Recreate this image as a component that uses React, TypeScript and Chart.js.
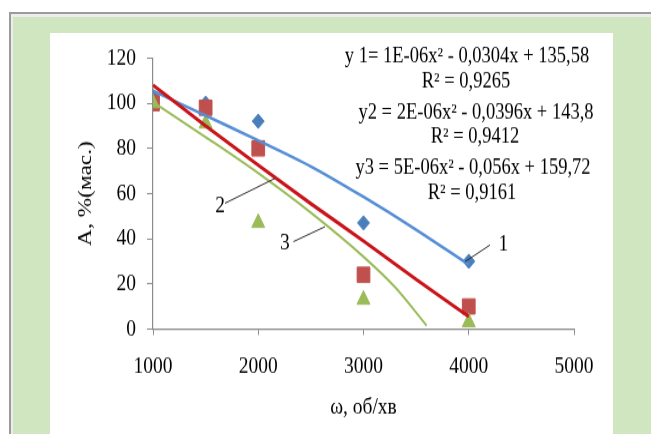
import React, { useEffect, useRef } from 'react';
import { Chart, registerables } from 'chart.js';

Chart.register(...registerables);

// ---- data ----
const categories = [1000, 1500, 2000, 3000, 4000];
const series1 = [103, 100, 92, 47, 30];
const series2 = [100, 98, 80, 24, 10];
const series3 = [100, 91, 47, 13, 3];

const trendX = [1000, 1500, 2000, 2500, 3000, 3500, 4000];
const trend1 = [105.5, 94.5, 83.5, 72, 58.5, 44, 28.5];
const trend2 = [108, 90, 72.5, 55.5, 39, 22, 5.5];
const trend3X = [1000, 1500, 2000, 2500, 3000, 3300, 3600];
const trend3 = [100.5, 85, 69, 51.5, 32, 18.5, 1.5];

const xTickLabels = ['1000', '2000', '3000', '4000', '5000'];
const yTickLabels = ['0', '20', '40', '60', '80', '100', '120'];

const equationLines = [
  'y 1= 1E-06x² - 0,0304x + 135,58',
  'R² = 0,9265',
  'y2 = 2E-06x² - 0,0396x + 143,8',
  'R² = 0,9412',
  'y3 = 5E-06x² - 0,056x + 159,72',
  'R² = 0,9161',
];
const curveNames = ['1', '2', '3'];

const xTitle = 'ω, об/хв';
const yTitle = 'А, %(мас.)';

// ---- layout (not data) ----
const W = 651;
const H = 434;
const CH = 362; // canvas height, stretched vertically to H
const SY = H / CH;
const FONT = "'Liberation Serif', 'Times New Roman', serif";

// equation text centres in page pixels
const eqPos = [
  [467, 57], [466, 82], [476, 113], [475, 137], [473, 168], [472, 193],
];
// curve label anchors in data units: label, leader start (label side), leader end (curve side)
const labelAnchors = [
  { text: [4329, 37.2], from: [4202, 37.2], to: [3964, 29.8] },
  { text: [1637, 54.2], from: [1684, 55.7], to: [2159, 66.7] },
  { text: [2254, 38.0], from: [2334, 38.7], to: [2634, 45.3] },
];

const toPts = (xs: number[], ys: number[]) => xs.map((x, i) => ({ x, y: ys[i] }));

const overlayPlugin = {
  id: 'overlay',
  afterDatasetsDraw(chart: any) {
    const { ctx, scales } = chart;
    const xs = scales.x;
    const ys = scales.y;
    ctx.save();
    // leader lines
    ctx.strokeStyle = '#303030';
    ctx.lineWidth = 1;
    labelAnchors.forEach((a) => {
      ctx.beginPath();
      ctx.moveTo(xs.getPixelForValue(a.from[0]), ys.getPixelForValue(a.from[1]));
      ctx.lineTo(xs.getPixelForValue(a.to[0]), ys.getPixelForValue(a.to[1]));
      ctx.stroke();
    });
    ctx.fillStyle = '#000';
    ctx.textAlign = 'center';
    ctx.textBaseline = 'middle';
    ctx.font = `normal 19.5px ${FONT}`;
    labelAnchors.forEach((a, i) => {
      ctx.fillText(curveNames[i], xs.getPixelForValue(a.text[0]), ys.getPixelForValue(a.text[1]));
    });
    ctx.font = `normal 18.5px ${FONT}`;
    equationLines.forEach((t, i) => {
      ctx.fillText(t, eqPos[i][0], eqPos[i][1] / SY);
    });
    ctx.restore();
  },
};

export default function App() {
  const ref = useRef<HTMLCanvasElement>(null);

  useEffect(() => {
    if (!ref.current) return;
    const chart = new Chart(ref.current, {
      type: 'scatter',
      data: {
        datasets: [
          {
            label: 'trend2',
            data: toPts(trendX, trend2),
            showLine: true,
            borderColor: '#C8141A',
            borderWidth: 3,
            pointRadius: 0,
            cubicInterpolationMode: 'monotone',
            order: 0,
          },
          {
            label: 'trend1',
            data: toPts(trendX, trend1),
            showLine: true,
            borderColor: '#558ED5',
            borderWidth: 2.5,
            pointRadius: 0,
            cubicInterpolationMode: 'monotone',
            order: 1,
          },
          {
            label: 'trend3',
            data: toPts(trend3X, trend3),
            showLine: true,
            borderColor: '#9BBB59',
            borderWidth: 2,
            pointRadius: 0,
            cubicInterpolationMode: 'monotone',
            order: 2,
          },
          {
            label: '3',
            data: toPts(categories, series3),
            pointStyle: 'triangle',
            pointRadius: 7.5,
            backgroundColor: '#9BBB59',
            borderColor: '#9BBB59',
            borderWidth: 1,
            order: 3,
          },
          {
            label: '2',
            data: toPts(categories, series2),
            pointStyle: 'rect',
            pointRadius: 9,
            backgroundColor: '#C0504D',
            borderColor: '#C0504D',
            borderWidth: 1,
            order: 4,
          },
          {
            label: '1',
            data: toPts(categories, series1),
            pointStyle: 'rectRot',
            pointRadius: 6,
            backgroundColor: '#4A7EBB',
            borderColor: '#4A7EBB',
            borderWidth: 1,
            order: 5,
          },
        ],
      },
      options: {
        animation: false,
        responsive: false,
        events: [],
        layout: { padding: { left: 0, right: W - 574, top: 58 / SY, bottom: 0 } },
        plugins: {
          legend: { display: false },
          tooltip: { enabled: false },
        },
        scales: {
          x: {
            type: 'linear',
            min: 1000,
            max: 5000,
            afterFit: (s: any) => {
              s.height = CH - 329 / SY;
            },
            afterBuildTicks: (s: any) => {
              s.ticks = xTickLabels.map((v) => ({ value: Number(v) }));
            },
            ticks: {
              callback: (_v: any, i: number) => xTickLabels[i],
              color: '#000',
              font: { family: FONT, size: 19.5, weight: 'normal' },
              padding: 15,
              maxRotation: 0,
            },
            grid: {
              drawOnChartArea: false,
              drawTicks: true,
              tickLength: 6 / SY,
              color: '#8C8C8C',
            },
            border: { display: true, color: '#8C8C8C', width: 1.2 },
            title: {
              display: true,
              text: xTitle,
              color: '#000',
              font: { family: FONT, size: 19.5, weight: 'normal' },
              padding: { top: 0, bottom: 10 },
            },
          },
          y: {
            type: 'linear',
            min: 0,
            max: 120,
            afterFit: (s: any) => {
              s.width = 153;
            },
            afterBuildTicks: (s: any) => {
              s.ticks = yTickLabels.map((v) => ({ value: Number(v) }));
            },
            ticks: {
              callback: (_v: any, i: number) => yTickLabels[i],
              color: '#000',
              font: { family: FONT, size: 19.5, weight: 'normal' },
              padding: 11,
            },
            grid: {
              drawOnChartArea: false,
              drawTicks: true,
              tickLength: 6,
              color: '#8C8C8C',
            },
            border: { display: true, color: '#8C8C8C', width: 1.2 },
            title: {
              display: true,
              text: yTitle,
              color: '#000',
              font: { family: FONT, size: 19.5, weight: 'normal' },
              padding: { top: 74, bottom: 0 },
            },
          },
        },
      },
      plugins: [overlayPlugin],
    } as any);
    return () => chart.destroy();
  }, []);

  return (
    <div
      style={{
        position: 'fixed',
        left: 0,
        top: 0,
        width: W,
        height: H,
        background: '#ffffff',
        overflow: 'hidden',
      }}
    >
      <div style={{ position: 'absolute', left: 9, top: 12, right: 0, height: 2, background: '#9B9B9B' }} />
      <div style={{ position: 'absolute', left: 9, top: 12, width: 2, bottom: 0, background: '#9B9B9B' }} />
      <div style={{ position: 'absolute', left: 11, top: 14, right: 0, bottom: 0, background: '#EDEDED' }} />
      <div style={{ position: 'absolute', left: 13, top: 17, right: 0, bottom: 0, background: '#D0E6C1' }} />
      <div style={{ position: 'absolute', left: 50, top: 33, width: 563, bottom: 0, background: '#ffffff' }} />
      <canvas
        ref={ref}
        width={W}
        height={CH}
        style={{
          position: 'absolute',
          left: 0,
          top: 0,
          width: W,
          height: CH,
          transform: `scaleY(${SY})`,
          transformOrigin: '0 0',
        }}
      />
    </div>
  );
}
